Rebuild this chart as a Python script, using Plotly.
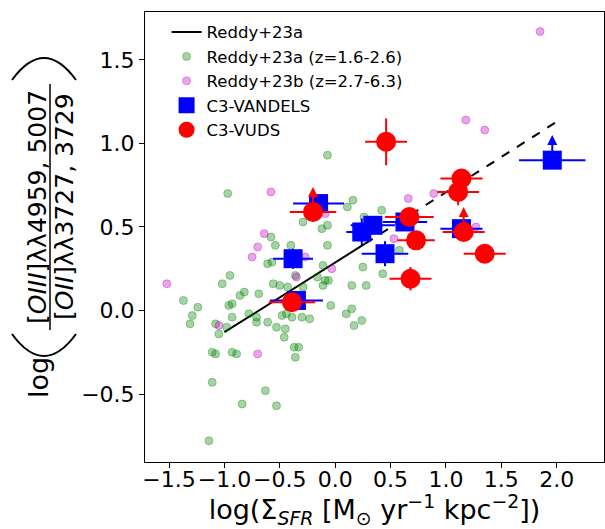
import plotly.graph_objects as go

# ---------------- data ----------------
# Reddy+23a relation (solid over data range, dashed extrapolation)
reddy_solid_x = [-1.0, 0.27]
reddy_solid_y = [-0.13, 0.40]
reddy_dash_x = [0.27, 2.0]
reddy_dash_y = [0.40, 1.13]

# Reddy+23a (z=1.6-2.6)
green_x = [-0.07, -0.97, 0.16, 0.11, 0.42, 0.26, -0.29, -0.12, -0.07, -0.58, -0.54, -0.40, -0.07,
           0.25, 0.43, 0.58, 0.15, 0.28, -0.61, -0.57, -0.11, -0.95, -1.02, -0.36, -0.16, -0.09,
           -0.06, -0.11, -0.56, -0.50, -0.43, -0.29, -0.69, -0.82, -0.86, -1.37, -1.24, -1.29,
           -1.31, -0.96, -0.93, -0.93, -0.78, -0.71, -0.71, -0.61, -0.53, -0.45, -0.46, -0.48,
           -0.44, -0.39, -0.30, -0.23, -0.04, 0.10, 0.15, 0.17, 0.24, -1.08, -1.05, -0.98, -1.11,
           -1.08, -0.93, -0.89, -0.37, -0.33, -0.36, -1.11, -0.63, -0.84, -0.53, -1.14]
green_y = [0.93, 0.70, 0.66, 0.62, 0.60, 0.56, 0.53, 0.49, 0.51, 0.44, 0.39, 0.39, 0.39,
           0.26, 0.22, 0.36, 0.15, 0.15, 0.28, 0.29, 0.27, 0.21, 0.16, 0.21, 0.20, 0.18,
           0.18, 0.15, 0.16, 0.15, 0.14, 0.14, 0.10, 0.11, 0.09, 0.06, 0.02, -0.03,
           -0.08, 0.03, 0.04, -0.04, -0.02, -0.04, -0.07, -0.07, -0.10, -0.11, -0.16, -0.03,
           -0.02, -0.04, -0.04, -0.05, 0.03, -0.02, 0.01, -0.09, -0.06, -0.08, -0.14, -0.10, -0.25,
           -0.26, -0.25, -0.26, -0.22, -0.22, -0.28, -0.43, -0.48, -0.56, -0.57, -0.78]

# Reddy+23b (z=2.7-6.3)
pink_x = [-1.52, -0.58, -0.64, -0.70, -0.75, -0.35, -0.27, -1.05, -0.70, 0.66, 0.89, -0.09,
          0.53, -0.03, 1.18, 1.35, 1.27, 1.85]
pink_y = [0.16, 0.71, 0.46, 0.38, 0.32, 0.20, 0.32, -0.09, -0.26, 0.67, 0.70, 0.58,
          0.43, 0.25, 1.14, 1.08, 0.50, 1.67]

# C3-VANDELS
vandels_x = [-0.15, -0.38, -0.35, 0.24, 0.34, 0.45, 0.63, 1.14, 1.96]
vandels_y = [0.64, 0.31, 0.06, 0.47, 0.51, 0.34, 0.53, 0.49, 0.90]
vandels_xerr = [0.23, 0.18, 0.24, 0.14, 0.20, 0.21, 0.20, 0.19, 0.30]
vandels_yerr = [0.03, 0.06, 0.03, 0.08, 0.05, 0.075, 0.04, 0.03, 0.0]
vandels_lowlim = [False, False, False, False, False, False, False, False, True]

# C3-VUDS
vuds_x = [-0.20, -0.39, 0.46, 0.67, 0.73, 0.68, 1.14, 1.11, 1.16, 1.35]
vuds_y = [0.59, 0.05, 1.01, 0.56, 0.42, 0.19, 0.79, 0.71, 0.47, 0.34]
vuds_xerr = [0.21, 0.21, 0.19, 0.22, 0.17, 0.19, 0.19, 0.19, 0.19, 0.19]
vuds_yerr = [0.0, 0.05, 0.14, 0.03, 0.03, 0.07, 0.03, 0.08, 0.0, 0.03]
vuds_lowlim = [True, False, False, False, False, False, False, False, True, False]

limit_len = 0.15

x_ticks = [-1.5, -1.0, -0.5, 0.0, 0.5, 1.0, 1.5, 2.0]
y_ticks = [-0.5, 0.0, 0.5, 1.0, 1.5]
x_range = [-1.717, 2.427]
y_range = [-0.907, 1.787]

# ---------------- figure ----------------
FONT = "DejaVu Sans"
W, H = 605, 529
ML, MR, MT, MB = 145, 1, 12, 67
PW, PH = W - ML - MR, H - MT - MB


def paper(px, py):
    return (px - ML) / PW, (H - MB - py) / PH


fig = go.Figure()

fig.add_trace(go.Scatter(x=reddy_solid_x, y=reddy_solid_y, mode="lines",
                         line=dict(color="black", width=2), name="Reddy+23a"))
fig.add_trace(go.Scatter(x=reddy_dash_x, y=reddy_dash_y, mode="lines",
                         line=dict(color="black", width=2, dash="dash"), showlegend=False))

fig.add_trace(go.Scatter(x=green_x, y=green_y, mode="markers", name="Reddy+23a (z=1.6-2.6)",
                         marker=dict(size=8, color="rgba(0,128,0,0.35)",
                                     line=dict(color="rgba(0,128,0,0.35)", width=1))))
fig.add_trace(go.Scatter(x=pink_x, y=pink_y, mode="markers", name="Reddy+23b (z=2.7-6.3)",
                         marker=dict(size=8, color="rgba(191,0,191,0.35)",
                                     line=dict(color="rgba(191,0,191,0.35)", width=1))))

fig.add_trace(go.Scatter(x=vandels_x, y=vandels_y, mode="markers", name="C3-VANDELS",
                         marker=dict(symbol="square", size=19, color="blue"),
                         error_x=dict(type="data", array=vandels_xerr, color="blue", thickness=2, width=0),
                         error_y=dict(type="data", array=vandels_yerr, color="blue", thickness=2, width=0)))
fig.add_trace(go.Scatter(x=vuds_x, y=vuds_y, mode="markers", name="C3-VUDS",
                         marker=dict(symbol="circle", size=20, color="red"),
                         error_x=dict(type="data", array=vuds_xerr, color="red", thickness=2, width=0),
                         error_y=dict(type="data", array=vuds_yerr, color="red", thickness=2, width=0)))

annotations = []
for xs, ys, lims, col in [(vandels_x, vandels_y, vandels_lowlim, "blue"),
                          (vuds_x, vuds_y, vuds_lowlim, "red")]:
    for xv, yv, lim in zip(xs, ys, lims):
        if lim:
            annotations.append(dict(x=xv, y=yv + limit_len, ax=xv, ay=yv, xref="x", yref="y",
                                    axref="x", ayref="y", showarrow=True, arrowhead=2,
                                    arrowsize=1, arrowwidth=2, arrowcolor=col, text=""))

# y-axis label built from pieces (log, fraction, big parentheses)
lx, ly = paper(38, 378)
annotations.append(dict(x=lx, y=ly, xref="paper", yref="paper", text="log", textangle=-90,
                        showarrow=False, font=dict(family=FONT, size=27, color="black"),
                        xanchor="center", yanchor="middle"))
nx, ny = paper(37, 207)
annotations.append(dict(x=nx, y=ny, xref="paper", yref="paper",
                        text="[<i>OIII</i>]λλ4959, 5007", textangle=-90, showarrow=False,
                        font=dict(family=FONT, size=25, color="black"),
                        xanchor="center", yanchor="middle"))
dx, dy = paper(64, 207)
annotations.append(dict(x=dx, y=dy, xref="paper", yref="paper",
                        text="[<i>OII</i>]λλ3727, 3729", textangle=-90, showarrow=False,
                        font=dict(family=FONT, size=25, color="black"),
                        xanchor="center", yanchor="middle"))

shapes = []
bx0, by0 = paper(50, 84)
bx1, by1 = paper(50, 330)
shapes.append(dict(type="line", xref="paper", yref="paper", x0=bx0, y0=by0, x1=bx1, y1=by1,
                   line=dict(color="black", width=1.5)))


def arc(x0, x1, yend, yapex):
    ax0, ay0 = paper(x0, yend)
    ax1, ay1 = paper(x1, yend)
    cx, cy = paper((x0 + x1) / 2, 2 * yapex - yend)
    return f"M {ax0},{ay0} Q {cx},{cy} {ax1},{ay1}"


shapes.append(dict(type="path", xref="paper", yref="paper", path=arc(12, 76, 80, 58),
                   line=dict(color="black", width=2)))
shapes.append(dict(type="path", xref="paper", yref="paper", path=arc(12, 76, 334, 356),
                   line=dict(color="black", width=2)))

fig.update_layout(
    width=W, height=H,
    margin=dict(l=ML, r=MR, t=MT, b=MB, pad=0),
    paper_bgcolor="white", plot_bgcolor="white",
    font=dict(family=FONT, color="black"),
    showlegend=True,
    legend=dict(x=0.047, y=0.994, xanchor="left", yanchor="top", bgcolor="rgba(255,255,255,0)",
                font=dict(family=FONT, size=16.5, color="black"), itemsizing="trace",
                tracegroupgap=0),
    annotations=annotations,
    shapes=shapes,
    xaxis=dict(range=x_range, tickmode="array", tickvals=x_ticks, tickformat=".1f",
               tickangle=0, automargin=False, ticklabelstandoff=-7,
               showgrid=False, zeroline=False, showline=True, linecolor="black", linewidth=1,
               mirror=True, ticks="outside", ticklen=5, tickwidth=1, tickcolor="black",
               tickfont=dict(family=FONT, size=22, color="black"),
               title=dict(text="log(Σ<sub><i>SFR</i></sub> [M<sub>⊙</sub> yr<sup>−1</sup> kpc<sup>−2</sup>])",
                          font=dict(family=FONT, size=27, color="black"), standoff=9)),
    yaxis=dict(range=y_range, tickmode="array", tickvals=y_ticks, tickformat=".1f",
               automargin=False,
               showgrid=False, zeroline=False, showline=True, linecolor="black", linewidth=1,
               mirror=True, ticks="outside", ticklen=5, tickwidth=1, tickcolor="black",
               tickfont=dict(family=FONT, size=22, color="black")),
)

fig.write_html("out.html")
